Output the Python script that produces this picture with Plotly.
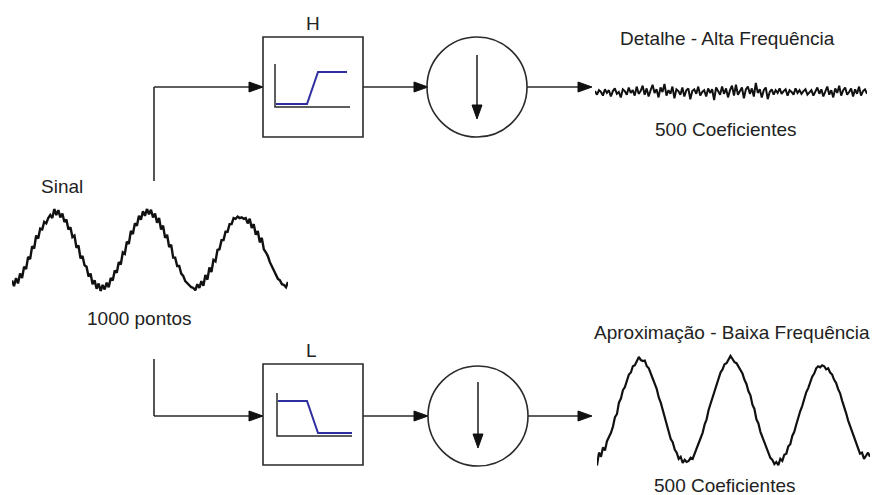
import plotly.graph_objects as go

# ---------------- data ----------------
sinal_values = [
    -0.80, -0.95, -0.74, -0.88, -0.62, -0.74, -0.44, -0.50, -0.18, -0.24, 0.10, 0.04, 0.38, 0.30, 0.56, 0.54,
    0.74, 0.70, 0.84, 0.92, 0.84, 1.08, 0.92, 1.05, 0.86, 0.96, 0.74, 0.80, 0.54, 0.60, 0.34, 0.38, 0.06, 0.12,
    -0.22, -0.16, -0.40, -0.44, -0.70, -0.62, -0.90, -0.80, -1.02, -0.88, -1.08, -0.92,
    -1.04, -0.86, -0.98, -0.74, -0.80, -0.54, -0.60, -0.32, -0.38, -0.06, -0.10, 0.22, 0.16, 0.50, 0.42, 0.70,
    0.64, 0.90, 0.80, 1.02, 0.90, 1.08, 0.94, 1.06, 0.86, 0.96, 0.72, 0.84, 0.54, 0.64, 0.32, 0.40, 0.08, 0.14,
    -0.20, -0.20, -0.42, -0.42, -0.62, -0.68, -0.82, -0.88, -0.92, -0.98, -1.00, -1.06,
    -0.90, -1.00, -0.82, -0.94, -0.66, -0.78, -0.46, -0.58, -0.26, -0.30, 0.00, 0.02, 0.26, 0.26, 0.48, 0.48,
    0.68, 0.68, 0.84, 0.82, 0.88, 0.84, 0.86, 0.82, 0.84, 0.70, 0.82, 0.58, 0.68, 0.40, 0.50, 0.20, 0.32, 0.02,
    -0.06, -0.16, -0.32, -0.44, -0.54, -0.66, -0.76, -0.80, -0.90, -0.92, -0.98, -0.84,
]

detalhe_values = [
    0.1, -0.3, 0.2, 0.0, -0.4, 0.3, -0.1, 0.2, -0.5, 0.1, 0.4, -0.2, 0.0, -0.6, 0.3, 0.1, -0.3, 0.5, -0.1, 0.2,
    -0.4, 0.6, -0.2, 0.1, 0.7, -0.3, 0.4, -0.5, 0.2, 0.8, -0.1, 0.3, -0.6, 0.5, 0.0, 0.9, -0.4, 0.2, -0.2, 0.6,
    -0.7, 0.3, 0.1, -0.3, 0.5, -0.5, 0.2, 0.4, -0.8, 0.1, 0.3, -0.2, 0.6, -0.4, 0.0, 0.2, -0.5, 0.4, -0.1, 0.3,
    -0.9, 0.5, 0.1, -0.3, 0.6, -0.2, 0.4, -0.6, 0.2, 0.7, -0.4, 0.8, -0.3, 0.1, 0.5, -0.7, 0.3, 0.6, -0.2, 0.4,
    -0.5, 1.0, -0.1, 0.3, -0.6, 0.2, 0.5, -0.8, 0.0, 0.3, -0.3, 0.2, -0.1, 0.4, -0.2, 0.1, 0.3, -0.4, 0.2, 0.0,
    -0.3, 0.4, -0.1, 0.2, -0.2, 0.1, 0.3, -0.3, 0.0, 0.2, -0.4, 0.1, 0.5, -0.2, 0.3, -0.5, 0.1, 0.6, -0.3, 0.2,
    -0.6, 0.4, -0.1, 0.7, -0.4, 0.2, 0.5, -0.3, 0.0, 0.4, -0.5, 0.3, -0.2, 0.6, -0.4, 0.1, 0.3, -0.2,
]

aproximacao_values = [
    -1.05, -0.80, -0.88, -0.70, -0.76, -0.58, -0.50, -0.42, -0.30, -0.12, -0.06, 0.16, 0.24, 0.40, 0.46, 0.58,
    0.70, 0.74, 0.86, 0.88, 0.96, 1.04, 0.98, 0.96, 0.97, 0.86, 0.82, 0.70, 0.62, 0.52, 0.42, 0.26, 0.16, 0.02,
    -0.12, -0.28, -0.38, -0.54, -0.60, -0.74, -0.80, -0.92, -0.88, -1.00, -0.94, -0.98,
    -0.96, -0.90, -0.92, -0.80, -0.72, -0.62, -0.52, -0.42, -0.26, -0.16, 0.02, 0.14, 0.30, 0.38, 0.54, 0.62,
    0.74, 0.80, 0.90, 0.92, 0.98, 1.06, 1.00, 0.94, 0.92, 0.86, 0.78, 0.72, 0.60, 0.52, 0.38, 0.30, 0.12, 0.04,
    -0.16, -0.24, -0.40, -0.50, -0.62, -0.70, -0.84, -0.90, -0.94, -1.02, -0.98, -1.04,
    -0.92, -0.96, -0.84, -0.82, -0.68, -0.64, -0.48, -0.40, -0.26, -0.12, 0.00, 0.10, 0.24, 0.36, 0.44, 0.56,
    0.66, 0.72, 0.82, 0.86, 0.84, 0.88, 0.86, 0.80, 0.82, 0.74, 0.70, 0.60, 0.54, 0.42, 0.34, 0.20, 0.10, -0.04,
    -0.18, -0.28, -0.42, -0.50, -0.62, -0.70, -0.82, -0.80, -0.92, -0.86, -0.80, -0.88,
]

labels = {
    "sinal": "Sinal",
    "pontos": "1000 pontos",
    "H": "H",
    "L": "L",
    "detalhe": "Detalhe - Alta Frequência",
    "coef": "500 Coeficientes",
    "aprox": "Aproximação - Baixa Frequência",
}

# ---------------- figure ----------------
W, H = 875, 495
FONT = "Liberation Sans, Arial, sans-serif"
LINE = "#2a2a2a"
BLUE = "#2e2ea0"

fig = go.Figure()


def px_dom_x(a, b):
    return [a / W, b / W]


def px_dom_y(top, bottom):
    return [1 - bottom / H, 1 - top / H]


# signals on their own hidden axes
fig.add_trace(go.Scatter(x=list(range(len(sinal_values))), y=sinal_values, mode="lines",
                         line=dict(color="#111111", width=2.4), xaxis="x2", yaxis="y2", hoverinfo="skip"))
fig.add_trace(go.Scatter(x=list(range(len(detalhe_values))), y=detalhe_values, mode="lines",
                         line=dict(color="#111111", width=2), xaxis="x3", yaxis="y3", hoverinfo="skip"))
fig.add_trace(go.Scatter(x=list(range(len(aproximacao_values))), y=aproximacao_values, mode="lines",
                         line=dict(color="#111111", width=2.2), xaxis="x4", yaxis="y4", hoverinfo="skip"))

hidden = dict(visible=False, showgrid=False, zeroline=False, fixedrange=True)

shapes = []


def line(x0, y0, x1, y1, color=LINE, width=1.6):
    shapes.append(dict(type="line", xref="x", yref="y", x0=x0, y0=y0, x1=x1, y1=y1,
                       line=dict(color=color, width=width)))


def head(tx, ty, direction, length=14, half=5):
    if direction == "right":
        path = f"M {tx},{ty} L {tx-length},{ty-half} L {tx-length},{ty+half} Z"
    else:  # down
        path = f"M {tx},{ty} L {tx-half},{ty-length} L {tx+half},{ty-length} Z"
    shapes.append(dict(type="path", xref="x", yref="y", path=path,
                       fillcolor="#111111", line=dict(color="#111111", width=1)))


def box(x0, y0, x1, y1):
    shapes.append(dict(type="rect", xref="x", yref="y", x0=x0, y0=y0, x1=x1, y1=y1,
                       line=dict(color=LINE, width=1.6), fillcolor="rgba(0,0,0,0)"))


def circle(cx, cy, r):
    shapes.append(dict(type="circle", xref="x", yref="y", x0=cx - r, y0=cy - r, x1=cx + r, y1=cy + r,
                       line=dict(color=LINE, width=1.6), fillcolor="rgba(0,0,0,0)"))


def polyline(pts, color, width):
    path = "M " + " L ".join(f"{x},{y}" for x, y in pts)
    shapes.append(dict(type="path", xref="x", yref="y", path=path,
                       line=dict(color=color, width=width)))


# ---- upper branch (H) ----
yt = 87
line(154, 181, 154, yt)
line(154, yt, 262, yt)
head(263, yt, "right")
box(263, 37, 363, 137)
polyline([(275, 64), (275, 107), (350, 107)], LINE, 1.5)
polyline([(276, 104), (307, 104), (318, 72), (347, 72)], BLUE, 2)
line(363, yt, 427, yt)
head(428, yt, "right")
circle(477, yt, 50)
line(477, 55, 477, 110)
head(477, 119, "down")
line(527, yt, 590, yt)
head(592, yt, "right")

# ---- lower branch (L) ----
yb = 416
line(154, 359, 154, yb)
line(154, yb, 262, yb)
head(263, yb, "right")
box(263, 364, 363, 465)
polyline([(277, 393), (277, 436), (352, 436)], LINE, 1.5)
polyline([(278, 401), (307, 401), (318, 433), (352, 433)], BLUE, 2)
line(363, yb, 427, yb)
head(428, yb, "right")
circle(478, yb, 50)
line(478, 382, 478, 440)
head(478, 448, "down")
line(528, yb, 590, yb)
head(592, yb, "right")

ann_font = dict(family=FONT, size=19, color="#222222")
annotations = []


def text(t, x, y):
    annotations.append(dict(text=t, x=x, y=y, xref="x", yref="y", showarrow=False,
                            xanchor="center", yanchor="middle", font=ann_font))


text(labels["sinal"], 62, 186)
text(labels["pontos"], 139, 318)
text(labels["H"], 313, 23)
text(labels["L"], 311, 350)
text(labels["detalhe"], 727, 38)
text(labels["coef"], 726, 129)
text(labels["aprox"], 732, 332)
text(labels["coef"], 725, 485)

fig.update_layout(
    width=W, height=H, autosize=False,
    margin=dict(l=0, r=0, t=0, b=0, pad=0),
    paper_bgcolor="white", plot_bgcolor="white",
    showlegend=False,
    xaxis=dict(range=[0, W], domain=[0, 1], **hidden),
    yaxis=dict(range=[H, 0], domain=[0, 1], **hidden),
    xaxis2=dict(range=[0, len(sinal_values) - 1], domain=px_dom_x(12, 288), anchor="y2", **hidden),
    yaxis2=dict(range=[-1.1, 1.1], domain=px_dom_y(208.2, 291.8), anchor="x2", **hidden),
    xaxis3=dict(range=[0, len(detalhe_values) - 1], domain=px_dom_x(595, 867), anchor="y3", **hidden),
    yaxis3=dict(range=[-1.5, 1.5], domain=px_dom_y(78.5, 105.5), anchor="x3", **hidden),
    xaxis4=dict(range=[0, len(aproximacao_values) - 1], domain=px_dom_x(597, 870), anchor="y4", **hidden),
    yaxis4=dict(range=[-1.15, 1.15], domain=px_dom_y(351.2, 470.8), anchor="x4", **hidden),
    shapes=shapes,
    annotations=annotations,
)

fig.write_html(
    "out.html",
    config={"displayModeBar": False, "staticPlot": True},
    post_script="document.body.style.margin='0';document.body.style.padding='0';"
                "document.documentElement.style.overflow='hidden';",
)
